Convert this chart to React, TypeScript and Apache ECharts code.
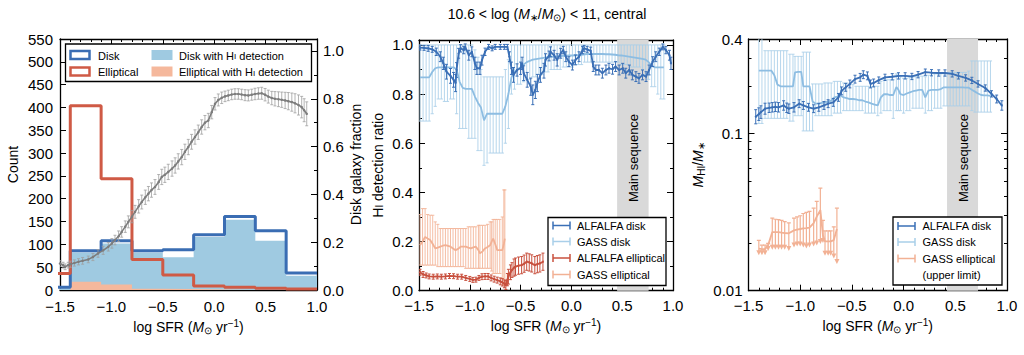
import React, { useEffect, useRef } from 'react';
import * as echarts from 'echarts';

const FONT = '"Liberation Sans", Arial, Helvetica, sans-serif';

// ---------------- data ----------------
const xRange = [-1.5, 1.0];

// Left panel: histograms (counts per log SFR bin)
const binEdges = [-1.7, -1.4, -1.1, -0.8, -0.5, -0.2, 0.1, 0.4, 0.7, 1.0];
const diskCounts = [6, 86, 108, 86, 88, 121, 161, 130, 37];
const diskHICounts = [4, 82, 102, 82, 72, 116, 154, 108, 31];
const ellCounts = [36, 404, 244, 67, 33, 9, 6, 4, 2];
const ellHICounts = [0, 18, 12, 3, 2, 1, 0, 0, 0];

// Left panel: disk galaxy fraction [logSFR, fraction, error]
const diskFraction = [
  [-1.5, 0.111, 0.012], [-1.47, 0.104, 0.012], [-1.45, 0.097, 0.012], [-1.42, 0.104, 0.012],
  [-1.4, 0.108, 0.013], [-1.36, 0.113, 0.013], [-1.32, 0.118, 0.013], [-1.28, 0.122, 0.014],
  [-1.225, 0.128, 0.014], [-1.18, 0.138, 0.015], [-1.13, 0.153, 0.016], [-1.08, 0.166, 0.017],
  [-1.03, 0.181, 0.018], [-0.995, 0.195, 0.02], [-0.965, 0.209, 0.02], [-0.93, 0.225, 0.022],
  [-0.9, 0.243, 0.022], [-0.865, 0.265, 0.024], [-0.835, 0.285, 0.025], [-0.8, 0.307, 0.026],
  [-0.77, 0.327, 0.027], [-0.735, 0.35, 0.028], [-0.705, 0.368, 0.029], [-0.67, 0.388, 0.03],
  [-0.64, 0.403, 0.03], [-0.61, 0.418, 0.03], [-0.576, 0.431, 0.031], [-0.54, 0.452, 0.031],
  [-0.51, 0.473, 0.032], [-0.48, 0.482, 0.032], [-0.447, 0.494, 0.032], [-0.41, 0.508, 0.032],
  [-0.38, 0.521, 0.032], [-0.35, 0.538, 0.032], [-0.316, 0.556, 0.032], [-0.285, 0.578, 0.032],
  [-0.252, 0.598, 0.032], [-0.22, 0.62, 0.031], [-0.187, 0.64, 0.03], [-0.155, 0.66, 0.03],
  [-0.122, 0.682, 0.03], [-0.09, 0.7, 0.03], [-0.057, 0.709, 0.03], [-0.024, 0.744, 0.028],
  [0.008, 0.779, 0.026], [0.04, 0.795, 0.025], [0.073, 0.804, 0.024], [0.105, 0.81, 0.022],
  [0.137, 0.814, 0.022], [0.17, 0.818, 0.022], [0.202, 0.82, 0.022], [0.235, 0.82, 0.022],
  [0.267, 0.818, 0.022], [0.3, 0.815, 0.023], [0.332, 0.814, 0.023], [0.365, 0.817, 0.023],
  [0.397, 0.82, 0.024], [0.43, 0.822, 0.024], [0.462, 0.823, 0.025], [0.495, 0.817, 0.026],
  [0.526, 0.809, 0.027], [0.56, 0.803, 0.028], [0.591, 0.8, 0.03], [0.625, 0.798, 0.031],
  [0.657, 0.796, 0.032], [0.69, 0.793, 0.034], [0.721, 0.79, 0.036], [0.755, 0.786, 0.038],
  [0.786, 0.781, 0.04], [0.82, 0.774, 0.042], [0.851, 0.765, 0.045], [0.875, 0.752, 0.048],
  [0.9, 0.737, 0.05],
];

// Middle panel: HI detection ratio
// ALFALFA disk [logSFR, ratio, error]
const alfalfaDiskRatio = [
  [-1.49, 0.989, 0.01], [-1.45, 0.988, 0.01], [-1.41, 0.986, 0.012], [-1.37, 0.982, 0.012],
  [-1.33, 0.972, 0.015], [-1.29, 0.952, 0.02], [-1.26, 0.925, 0.025], [-1.23, 0.891, 0.03],
  [-1.19, 0.874, 0.03], [-1.16, 0.858, 0.03], [-1.14, 0.845, 0.035], [-1.13, 0.898, 0.03],
  [-1.11, 0.966, 0.02], [-1.09, 0.986, 0.015], [-1.06, 0.979, 0.015], [-1.045, 0.992, 0.012],
  [-1.01, 0.958, 0.02], [-0.98, 0.972, 0.02], [-0.95, 0.925, 0.025], [-0.93, 0.905, 0.025],
  [-0.9, 0.905, 0.025], [-0.88, 0.938, 0.02], [-0.85, 0.972, 0.015], [-0.815, 0.992, 0.01],
  [-0.78, 0.986, 0.01], [-0.75, 0.992, 0.01], [-0.7, 0.992, 0.01], [-0.66, 0.992, 0.01],
  [-0.63, 0.992, 0.01], [-0.61, 0.952, 0.02], [-0.59, 0.905, 0.025], [-0.57, 0.878, 0.03],
  [-0.535, 0.898, 0.025], [-0.5, 0.905, 0.025], [-0.485, 0.925, 0.025], [-0.47, 0.885, 0.03],
  [-0.435, 0.858, 0.03], [-0.4, 0.83, 0.035], [-0.38, 0.797, 0.04], [-0.355, 0.817, 0.035],
  [-0.335, 0.845, 0.035], [-0.305, 0.878, 0.03], [-0.27, 0.895, 0.03], [-0.255, 0.939, 0.025],
  [-0.22, 0.955, 0.02], [-0.205, 0.972, 0.02], [-0.17, 0.958, 0.02], [-0.14, 0.939, 0.025],
  [-0.105, 0.966, 0.02], [-0.08, 0.979, 0.015], [-0.055, 0.952, 0.02], [-0.025, 0.932, 0.02],
  [0.01, 0.918, 0.02], [0.04, 0.939, 0.02], [0.075, 0.952, 0.02], [0.11, 0.979, 0.015],
  [0.125, 0.986, 0.012], [0.155, 0.982, 0.012], [0.19, 0.976, 0.015], [0.215, 0.912, 0.02],
  [0.24, 0.898, 0.02], [0.27, 0.898, 0.02], [0.305, 0.885, 0.02], [0.34, 0.898, 0.02],
  [0.37, 0.905, 0.02], [0.405, 0.901, 0.02], [0.435, 0.912, 0.02], [0.47, 0.898, 0.02],
  [0.505, 0.905, 0.02], [0.535, 0.885, 0.02], [0.57, 0.898, 0.02], [0.6, 0.878, 0.02],
  [0.635, 0.871, 0.02], [0.665, 0.864, 0.02], [0.7, 0.878, 0.02], [0.735, 0.871, 0.02],
  [0.765, 0.898, 0.02], [0.8, 0.932, 0.02], [0.83, 0.952, 0.02], [0.865, 0.972, 0.015],
  [0.9, 0.992, 0.012], [0.93, 0.979, 0.015], [0.965, 0.958, 0.02], [0.98, 0.925, 0.025],
];
// GASS disk [logSFR, ratio, lower, upper]
const gassDiskRatio = [
  [-1.49, 0.868, 0.69, 1.0], [-1.46, 0.868, 0.69, 1.0], [-1.43, 0.868, 0.69, 1.0], [-1.4, 0.868, 0.69, 1.0],
  [-1.37, 0.89, 0.72, 1.0], [-1.34, 0.905, 0.75, 1.0], [-1.31, 0.909, 0.78, 1.0], [-1.28, 0.909, 0.78, 1.0],
  [-1.25, 0.909, 0.77, 1.0], [-1.22, 0.909, 0.77, 1.0], [-1.19, 0.909, 0.78, 1.0], [-1.16, 0.909, 0.78, 1.0],
  [-1.13, 0.9, 0.72, 1.0], [-1.1, 0.85, 0.66, 1.0], [-1.07, 0.825, 0.66, 1.0], [-1.04, 0.821, 0.66, 1.0],
  [-1.01, 0.821, 0.62, 1.0], [-0.98, 0.821, 0.62, 1.0], [-0.95, 0.79, 0.62, 0.98], [-0.92, 0.765, 0.57, 0.95],
  [-0.89, 0.745, 0.57, 0.9], [-0.86, 0.693, 0.51, 0.87], [-0.83, 0.72, 0.52, 0.87], [-0.8, 0.72, 0.56, 0.87],
  [-0.77, 0.72, 0.56, 0.87], [-0.74, 0.72, 0.56, 0.87], [-0.71, 0.72, 0.56, 0.87], [-0.68, 0.72, 0.56, 0.87],
  [-0.65, 0.75, 0.6, 0.9], [-0.62, 0.8, 0.66, 0.94], [-0.59, 0.868, 0.8, 1.0], [-0.56, 0.888, 0.82, 1.0],
  [-0.53, 0.9, 0.84, 1.0], [-0.5, 0.909, 0.84, 1.0], [-0.47, 0.92, 0.85, 1.0], [-0.44, 0.93, 0.86, 1.0],
  [-0.41, 0.935, 0.86, 1.0], [-0.38, 0.94, 0.87, 1.0], [-0.35, 0.942, 0.87, 1.0], [-0.32, 0.944, 0.88, 1.0],
  [-0.29, 0.946, 0.88, 1.0], [-0.26, 0.948, 0.89, 1.0], [-0.23, 0.95, 0.89, 1.0], [-0.2, 0.951, 0.9, 1.0],
  [-0.17, 0.952, 0.9, 1.0], [-0.14, 0.953, 0.9, 1.0], [-0.11, 0.954, 0.9, 1.0], [-0.08, 0.955, 0.91, 1.0],
  [-0.05, 0.956, 0.91, 1.0], [-0.02, 0.957, 0.91, 1.0], [0.01, 0.957, 0.91, 1.0], [0.04, 0.958, 0.92, 1.0],
  [0.07, 0.958, 0.92, 1.0], [0.1, 0.96, 0.92, 1.0], [0.13, 0.962, 0.93, 1.0], [0.16, 0.963, 0.93, 1.0],
  [0.19, 0.963, 0.93, 1.0], [0.22, 0.963, 0.93, 1.0], [0.25, 0.963, 0.93, 1.0], [0.28, 0.963, 0.93, 1.0],
  [0.31, 0.963, 0.93, 1.0], [0.34, 0.962, 0.93, 1.0], [0.37, 0.962, 0.93, 1.0], [0.4, 0.961, 0.93, 1.0],
  [0.43, 0.96, 0.93, 1.0], [0.46, 0.958, 0.93, 1.0], [0.49, 0.957, 0.92, 1.0], [0.52, 0.955, 0.92, 1.0],
  [0.55, 0.953, 0.92, 1.0], [0.58, 0.951, 0.91, 1.0], [0.61, 0.949, 0.91, 1.0], [0.64, 0.947, 0.91, 1.0],
  [0.67, 0.945, 0.91, 1.0], [0.7, 0.943, 0.9, 1.0], [0.73, 0.94, 0.88, 1.0], [0.76, 0.93, 0.86, 1.0],
  [0.79, 0.915, 0.83, 1.0], [0.82, 0.909, 0.83, 1.0], [0.85, 0.909, 0.8, 1.0], [0.88, 0.909, 0.78, 1.0],
  [0.91, 0.909, 0.78, 1.0],
];
// ALFALFA elliptical [logSFR, ratio, error]
const alfalfaEllRatio = [
  [-1.49, 0.075, 0.012], [-1.46, 0.066, 0.012], [-1.43, 0.062, 0.01], [-1.4, 0.058, 0.01],
  [-1.36, 0.057, 0.01], [-1.32, 0.058, 0.01], [-1.28, 0.057, 0.01], [-1.24, 0.058, 0.01],
  [-1.2, 0.06, 0.01], [-1.16, 0.059, 0.01], [-1.12, 0.057, 0.01], [-1.08, 0.057, 0.01],
  [-1.04, 0.052, 0.01], [-1.0, 0.048, 0.01], [-0.97, 0.044, 0.01], [-0.94, 0.045, 0.01],
  [-0.91, 0.052, 0.01], [-0.88, 0.057, 0.012], [-0.85, 0.058, 0.012], [-0.82, 0.058, 0.012],
  [-0.79, 0.052, 0.012], [-0.76, 0.047, 0.012], [-0.73, 0.043, 0.012], [-0.7, 0.038, 0.014],
  [-0.68, 0.034, 0.015], [-0.66, 0.028, 0.016], [-0.645, 0.023, 0.018], [-0.63, 0.045, 0.025],
  [-0.62, 0.057, 0.03], [-0.6, 0.075, 0.03], [-0.585, 0.084, 0.03], [-0.565, 0.094, 0.035],
  [-0.55, 0.098, 0.035], [-0.52, 0.102, 0.035], [-0.49, 0.104, 0.035], [-0.465, 0.11, 0.035],
  [-0.44, 0.118, 0.035], [-0.415, 0.115, 0.035], [-0.39, 0.111, 0.035], [-0.36, 0.104, 0.035],
  [-0.335, 0.108, 0.035], [-0.31, 0.111, 0.035], [-0.28, 0.118, 0.035],
];
// GASS elliptical [logSFR, ratio, lower, upper]
const gassEllRatio = [
  [-1.49, 0.185, 0.104, 0.31], [-1.465, 0.2, 0.104, 0.334], [-1.44, 0.219, 0.104, 0.334],
  [-1.415, 0.212, 0.104, 0.31], [-1.39, 0.206, 0.104, 0.307], [-1.365, 0.19, 0.104, 0.307],
  [-1.34, 0.172, 0.104, 0.28], [-1.315, 0.175, 0.098, 0.27], [-1.29, 0.179, 0.098, 0.253],
  [-1.265, 0.183, 0.098, 0.253], [-1.24, 0.185, 0.098, 0.253], [-1.215, 0.182, 0.098, 0.253],
  [-1.19, 0.179, 0.098, 0.253], [-1.165, 0.172, 0.098, 0.253], [-1.14, 0.165, 0.098, 0.253],
  [-1.115, 0.17, 0.098, 0.253], [-1.09, 0.179, 0.098, 0.253], [-1.065, 0.179, 0.098, 0.253],
  [-1.04, 0.179, 0.091, 0.253], [-1.015, 0.175, 0.091, 0.26], [-0.99, 0.172, 0.091, 0.26],
  [-0.965, 0.176, 0.091, 0.26], [-0.94, 0.179, 0.091, 0.26], [-0.915, 0.165, 0.091, 0.266],
  [-0.9, 0.152, 0.091, 0.266], [-0.875, 0.16, 0.091, 0.266], [-0.85, 0.172, 0.091, 0.266],
  [-0.825, 0.178, 0.091, 0.27], [-0.8, 0.185, 0.091, 0.28], [-0.785, 0.2, 0.08, 0.28],
  [-0.77, 0.212, 0.07, 0.29], [-0.75, 0.19, 0.07, 0.29], [-0.73, 0.165, 0.07, 0.29],
  [-0.705, 0.165, 0.07, 0.29], [-0.68, 0.165, 0.05, 0.3], [-0.665, 0.19, 0.023, 0.41],
  [-0.655, 0.212, 0.023, 0.41],
];

// Right panel: M_HI / M_*
// ALFALFA disk [logSFR, ratio, error in dex]
const alfalfaDiskGas = [
  [-1.43, 0.128, 0.045], [-1.4, 0.133, 0.04], [-1.38, 0.137, 0.04], [-1.34, 0.144, 0.035],
  [-1.3, 0.146, 0.03], [-1.27, 0.147, 0.03], [-1.24, 0.148, 0.03], [-1.21, 0.147, 0.03],
  [-1.16, 0.151, 0.03], [-1.13, 0.146, 0.03], [-1.11, 0.144, 0.03], [-1.06, 0.147, 0.03],
  [-1.01, 0.155, 0.025], [-0.97, 0.151, 0.025], [-0.92, 0.147, 0.025], [-0.87, 0.144, 0.025],
  [-0.82, 0.147, 0.025], [-0.77, 0.151, 0.025], [-0.73, 0.155, 0.025], [-0.68, 0.158, 0.025],
  [-0.63, 0.17, 0.025], [-0.6, 0.187, 0.025], [-0.56, 0.197, 0.025], [-0.52, 0.207, 0.025],
  [-0.47, 0.222, 0.025], [-0.42, 0.228, 0.025], [-0.39, 0.237, 0.025], [-0.35, 0.233, 0.025],
  [-0.32, 0.207, 0.025], [-0.29, 0.21, 0.025], [-0.24, 0.219, 0.02], [-0.18, 0.228, 0.02],
  [-0.11, 0.23, 0.02], [-0.05, 0.233, 0.02], [0.015, 0.233, 0.02], [0.08, 0.231, 0.02],
  [0.14, 0.237, 0.02], [0.21, 0.246, 0.02], [0.27, 0.244, 0.02], [0.34, 0.243, 0.02],
  [0.4, 0.243, 0.02], [0.47, 0.24, 0.02], [0.53, 0.233, 0.02], [0.6, 0.226, 0.02],
  [0.66, 0.218, 0.02], [0.72, 0.207, 0.02], [0.79, 0.195, 0.02], [0.85, 0.179, 0.02],
  [0.9, 0.166, 0.025], [0.95, 0.151, 0.03],
];
// GASS disk [logSFR, ratio, lower, upper]
const gassDiskGas = [
  [-1.4, 0.252, 0.116, 0.45], [-1.37, 0.252, 0.116, 0.45], [-1.34, 0.252, 0.125, 0.337],
  [-1.31, 0.252, 0.125, 0.337], [-1.28, 0.252, 0.125, 0.337], [-1.25, 0.235, 0.125, 0.337],
  [-1.22, 0.205, 0.125, 0.337], [-1.19, 0.2, 0.125, 0.337], [-1.16, 0.2, 0.125, 0.337],
  [-1.13, 0.2, 0.125, 0.337], [-1.1, 0.2, 0.12, 0.32], [-1.07, 0.2, 0.12, 0.32],
  [-1.05, 0.245, 0.13, 0.31], [-1.02, 0.247, 0.13, 0.31], [-0.99, 0.247, 0.13, 0.31],
  [-0.97, 0.2, 0.104, 0.33], [-0.94, 0.2, 0.104, 0.33], [-0.91, 0.2, 0.104, 0.33],
  [-0.88, 0.16, 0.104, 0.207], [-0.85, 0.155, 0.13, 0.207], [-0.82, 0.155, 0.13, 0.207],
  [-0.79, 0.157, 0.13, 0.207], [-0.76, 0.158, 0.13, 0.21], [-0.73, 0.16, 0.13, 0.21],
  [-0.7, 0.162, 0.13, 0.21], [-0.67, 0.17, 0.135, 0.215], [-0.64, 0.172, 0.135, 0.215],
  [-0.61, 0.175, 0.135, 0.215], [-0.58, 0.17, 0.14, 0.21], [-0.55, 0.168, 0.14, 0.21],
  [-0.52, 0.166, 0.14, 0.205], [-0.49, 0.166, 0.14, 0.205], [-0.46, 0.165, 0.14, 0.2],
  [-0.43, 0.163, 0.14, 0.2], [-0.4, 0.163, 0.14, 0.2], [-0.37, 0.16, 0.135, 0.2],
  [-0.34, 0.158, 0.135, 0.2], [-0.31, 0.155, 0.135, 0.2], [-0.28, 0.153, 0.135, 0.2],
  [-0.25, 0.151, 0.13, 0.2], [-0.22, 0.17, 0.135, 0.215], [-0.19, 0.178, 0.14, 0.22],
  [-0.16, 0.178, 0.14, 0.22], [-0.13, 0.176, 0.14, 0.22], [-0.1, 0.176, 0.125, 0.22],
  [-0.07, 0.198, 0.14, 0.24], [-0.05, 0.19, 0.14, 0.235], [-0.03, 0.178, 0.14, 0.23],
  [0.0, 0.176, 0.135, 0.225], [0.03, 0.18, 0.14, 0.225], [0.06, 0.183, 0.14, 0.228],
  [0.09, 0.186, 0.145, 0.23], [0.12, 0.188, 0.145, 0.23], [0.15, 0.19, 0.145, 0.232],
  [0.18, 0.19, 0.145, 0.232], [0.21, 0.17, 0.135, 0.23], [0.24, 0.188, 0.14, 0.235],
  [0.27, 0.19, 0.14, 0.24], [0.3, 0.19, 0.145, 0.24], [0.33, 0.19, 0.145, 0.24],
  [0.36, 0.192, 0.145, 0.24], [0.39, 0.197, 0.15, 0.245], [0.42, 0.197, 0.15, 0.245],
  [0.45, 0.197, 0.15, 0.245], [0.48, 0.197, 0.15, 0.245], [0.51, 0.197, 0.15, 0.245],
  [0.54, 0.197, 0.15, 0.245], [0.57, 0.197, 0.15, 0.245], [0.6, 0.196, 0.15, 0.245],
  [0.63, 0.196, 0.15, 0.25], [0.66, 0.19, 0.14, 0.29], [0.69, 0.185, 0.137, 0.29],
  [0.72, 0.18, 0.137, 0.29], [0.75, 0.176, 0.137, 0.29], [0.78, 0.175, 0.137, 0.29],
  [0.81, 0.175, 0.137, 0.29], [0.84, 0.174, 0.137, 0.29],
];
// GASS elliptical upper limits [logSFR, ratio, lower(arrow), upper]
const gassEllGas = [
  [-1.4, 0.0185, 0.0178, 0.0209], [-1.37, 0.0184, 0.0178, 0.0195], [-1.34, 0.0184, 0.0178, 0.0195],
  [-1.31, 0.0195, 0.019, 0.02], [-1.27, 0.0236, 0.0193, 0.029], [-1.24, 0.0236, 0.0193, 0.0285],
  [-1.21, 0.0236, 0.0193, 0.0283], [-1.18, 0.0234, 0.0193, 0.028], [-1.15, 0.0233, 0.0193, 0.0275],
  [-1.11, 0.0232, 0.019, 0.027], [-1.06, 0.0242, 0.02, 0.029], [-1.03, 0.0245, 0.0203, 0.0295],
  [-1.0, 0.0247, 0.0203, 0.03], [-0.97, 0.0249, 0.02, 0.031], [-0.94, 0.025, 0.0197, 0.0315],
  [-0.91, 0.0252, 0.02, 0.032], [-0.87, 0.0269, 0.0203, 0.0335], [-0.84, 0.0296, 0.0206, 0.037],
  [-0.805, 0.0326, 0.021, 0.045], [-0.78, 0.0225, 0.0213, 0.028], [-0.76, 0.0206, 0.0177, 0.024],
  [-0.73, 0.0206, 0.0177, 0.024], [-0.705, 0.0206, 0.0177, 0.024], [-0.675, 0.021, 0.017, 0.0255],
  [-0.645, 0.0247, 0.0157, 0.0335],
];

// Main sequence band (log SFR range) as drawn in each panel
const mainSeqMid = [0.45, 0.76];
const mainSeqRight = [0.42, 0.72];

// Axis ticks
const countTicksMax = 550;
const fracTicks = [0, 0.2, 0.4, 0.6, 0.8, 1.0];
const ratioTicks = [0, 0.2, 0.4, 0.6, 0.8, 1.0];
const gasMajorTicks = [0.01, 0.1];
const gasLabelTicks = [0.01, 0.1, 0.3999];
const gasMinorTicks = [0.02, 0.03, 0.04, 0.05, 0.06, 0.07, 0.08, 0.09, 0.2, 0.3];

const legendLeft = ['Disk', 'Elliptical'];
const legendMid = ['ALFALFA disk', 'GASS disk', 'ALFALFA elliptical', 'GASS elliptical'];
const legendRight = ['ALFALFA disk', 'GASS disk', 'GASS elliptical', '(upper limit)'];

// ---------------- colours ----------------
const C_DISK = '#3a6db3';
const C_ELL = '#cf5a45';
const C_DISK_FILL = '#9fcae1';
const C_ELL_FILL = '#f5b89c';
const C_GRAY = '#7d7d7d';
const C_GRAY_ERR = '#a0a0a0';
const C_ALF_DISK = '#3a6fb6';
const C_GASS_DISK = '#8dbde2';
const C_GASS_DISK_ERR = '#a9cfe9';
const C_ALF_ELL = '#c8503e';
const C_GASS_ELL = '#f2b194';
const C_BAND = '#d9d9d9';

// ---------------- helpers ----------------
const stepData = (counts: number[]) => binEdges.map((e, i) => [e, counts[Math.min(i, counts.length - 1)]]);
const symErr = (rows: number[][]) => rows.map(([x, y, e]) => [x, y, y - e, y + e]);
const dexErr = (rows: number[][]) => rows.map(([x, y, e]) => [x, y, y / Math.pow(10, e), y * Math.pow(10, e)]);
const xy = (rows: number[][]) => rows.map((r) => [r[0], r[1]]);

function errorBars(o: { xi: number; yi: number; data: number[][]; color: string; width?: number; cap?: number; opacity?: number; arrow?: boolean; z?: number }) {
  const { color, width = 1, cap = 2, opacity = 1, arrow = false } = o;
  return {
    type: 'custom',
    xAxisIndex: o.xi,
    yAxisIndex: o.yi,
    data: o.data,
    clip: true,
    silent: true,
    z: o.z ?? 2,
    encode: { x: 0, y: [1, 2, 3] },
    renderItem: (_p: any, api: any) => {
      const x = api.value(0);
      const lo = api.coord([x, api.value(2)]);
      const hi = api.coord([x, api.value(3)]);
      const st = { stroke: color, lineWidth: width, opacity };
      const children: any[] = [
        { type: 'line', shape: { x1: lo[0], y1: lo[1], x2: hi[0], y2: hi[1] }, style: st },
        { type: 'line', shape: { x1: hi[0] - cap, y1: hi[1], x2: hi[0] + cap, y2: hi[1] }, style: st },
      ];
      if (arrow) {
        children.push({
          type: 'polygon',
          shape: { points: [[lo[0] - 2.5, lo[1] - 1], [lo[0] + 2.5, lo[1] - 1], [lo[0], lo[1] + 4]] },
          style: { fill: color, opacity },
        });
      } else {
        children.push({ type: 'line', shape: { x1: lo[0] - cap, y1: lo[1], x2: lo[0] + cap, y2: lo[1] }, style: st });
      }
      return { type: 'group', children };
    },
  };
}

function line(xi: number, yi: number, data: number[][], color: string, width: number, z: number, sym = 0) {
  return {
    type: 'line', xAxisIndex: xi, yAxisIndex: yi, data,
    symbol: sym ? 'circle' : 'none', symbolSize: sym, showSymbol: !!sym,
    itemStyle: { color }, lineStyle: { color, width }, z, silent: true, clip: true,
  };
}

function stepSeries(data: number[][], color: string, fill: boolean, z: number) {
  return {
    type: 'line', xAxisIndex: 0, yAxisIndex: 0, data, step: 'end', symbol: 'none', showSymbol: false,
    lineStyle: fill ? { width: 0, color } : { width: 3, color },
    areaStyle: fill ? { color, opacity: 1 } : undefined,
    z, silent: true, clip: true,
  };
}

const AX_LINE = { show: true, onZero: false, lineStyle: { color: '#000', width: 1.3 } };
const NO_LINE = { show: false, onZero: false };
const TICK = { color: '#000', width: 1 };
const fmtX = (v: number) => v.toFixed(1).replace('-', '\u2212');
const RICH = {
  i: { fontStyle: 'italic', fontSize: 14, fontFamily: FONT, color: '#000' },
  sub: { fontSize: 10, fontFamily: FONT, color: '#000', padding: [7, 0, 0, 0] },
  sup: { fontSize: 10, fontFamily: FONT, color: '#000', padding: [0, 0, 7, 0] },
  s: { fontSize: 10, fontFamily: FONT, color: '#000', padding: [2, 0, 0, 0] },
};
const NAME_STYLE = { fontSize: 14, fontFamily: FONT, color: '#000', rich: RICH };
const LABEL = { fontSize: 15, fontFamily: FONT, color: '#000', lineHeight: 13 };

function xAxisDef(gridIndex: number, bottom: boolean) {
  return {
    type: 'value', gridIndex, position: bottom ? 'bottom' : 'top',
    min: xRange[0], max: xRange[1], interval: 0.5,
    axisLine: AX_LINE,
    axisTick: { show: true, inside: true, length: 6, lineStyle: TICK },
    minorTick: { show: true, splitNumber: 5, length: 3, lineStyle: TICK },
    splitLine: { show: false },
    axisLabel: { show: bottom, ...LABEL, margin: gridIndex === 0 ? 10 : 8, formatter: fmtX },
    name: bottom ? 'log SFR ({i|M}{sub|\u2299} yr{sup|\u22121})' : '',
    nameLocation: 'middle', nameGap: 26, nameTextStyle: NAME_STYLE,
  };
}

function linearY(gridIndex: number, pos: string, max: number, interval: number, ticks: number[] | null, minor: number, showLabel: boolean, name: string, nameGap: number, fmt?: (v: number) => string, margin = 6) {
  return {
    type: 'value', gridIndex, position: pos, min: 0, max, interval,
    axisLine: AX_LINE,
    axisTick: { show: true, inside: true, length: 6, lineStyle: TICK, ...(ticks ? { customValues: ticks } : {}) },
    minorTick: { show: minor > 0, splitNumber: minor || 5, length: 3, lineStyle: TICK },
    splitLine: { show: false },
    axisLabel: { show: showLabel, ...LABEL, margin, ...(ticks ? { customValues: ticks } : {}), ...(fmt ? { formatter: fmt } : {}) },
    name, nameLocation: 'middle', nameRotate: 90, nameGap, nameTextStyle: NAME_STYLE,
  };
}

function logY(pos: string, minor: boolean, showLabel: boolean, name: string) {
  return {
    type: 'log', logBase: 10, gridIndex: 2, position: pos, min: 0.01, max: 0.4,
    axisLine: minor ? NO_LINE : AX_LINE,
    axisTick: { show: true, inside: true, length: minor ? 3 : 6, lineStyle: TICK, customValues: minor ? gasMinorTicks : gasMajorTicks },
    minorTick: { show: false },
    splitLine: { show: false },
    axisLabel: {
      show: showLabel && !minor, ...LABEL, margin: 6, customValues: gasLabelTicks,
      formatter: (v: number) => String(Number(v.toPrecision(1))),
    },
    name, nameLocation: 'middle', nameRotate: 90, nameGap: 42, nameTextStyle: NAME_STYLE,
  };
}

function bandSeries(xi: number, yi: number, range: number[]) {
  return {
    type: 'line', xAxisIndex: xi, yAxisIndex: yi, data: [], z: 0, silent: true, symbol: 'none',
    markArea: { silent: true, itemStyle: { color: C_BAND, opacity: 1 }, data: [[{ xAxis: range[0] }, { xAxis: range[1] }]] },
  };
}

// ---------------- graphics (legends, titles) ----------------
function txt(x: number, y: number, text: string, size: number, extra: any = {}) {
  return {
    type: 'text', x, y, z: 120, silent: true,
    style: {
      text, fontSize: size, fontFamily: FONT, fill: '#000', align: 'left', verticalAlign: 'middle',
      rich: {
        s: { fontSize: size - 3, fontFamily: FONT, fill: '#000', padding: [2, 0, 0, 0] },
        i: { fontSize: size, fontFamily: FONT, fontStyle: 'italic', fill: '#000' },
        sub: { fontSize: size - 4, fontFamily: FONT, fill: '#000', padding: [7, 0, 0, 0] },
      },
      ...extra,
    },
  };
}
const box = (x: number, y: number, w: number, h: number) => ({
  type: 'rect', z: 110, silent: true, shape: { x, y, width: w, height: h },
  style: { fill: '#fff', stroke: '#000', lineWidth: 1.3 },
});
const seg = (x1: number, y1: number, x2: number, y2: number, color: string, w = 1.5) => ({
  type: 'line', z: 115, silent: true, shape: { x1, y1, x2, y2 }, style: { stroke: color, lineWidth: w },
});
const errSym = (x: number, y: number, color: string) => [
  seg(x, y, x + 17, y, color), seg(x, y - 4, x, y + 4, color), seg(x + 17, y - 4, x + 17, y + 4, color),
];

function buildGraphics() {
  const g: any[] = [];
  // Title
  g.push(txt(547, 14, '10.6 < log ({i|M}{sub|\u2217}/{i|M}{sub|\u2299}) < 11, central', 14, { align: 'center' }));
  // Left legend
  g.push(box(65.5, 44, 246, 37.5));
  g.push({ type: 'rect', z: 115, silent: true, shape: { x: 70.5, y: 51, width: 19, height: 8 }, style: { fill: 'none', stroke: C_DISK, lineWidth: 2.5 } });
  g.push({ type: 'rect', z: 115, silent: true, shape: { x: 70.5, y: 67.5, width: 19, height: 8 }, style: { fill: 'none', stroke: C_ELL, lineWidth: 2.5 } });
  g.push({ type: 'rect', z: 115, silent: true, shape: { x: 151.5, y: 50, width: 21, height: 10 }, style: { fill: C_DISK_FILL } });
  g.push({ type: 'rect', z: 115, silent: true, shape: { x: 151.5, y: 66.5, width: 21, height: 10 }, style: { fill: C_ELL_FILL } });
  g.push(txt(98, 55.5, legendLeft[0], 11));
  g.push(txt(98, 72, legendLeft[1], 11));
  g.push(txt(179, 55.5, 'Disk with H{s|I} detection', 11));
  g.push(txt(179, 72, 'Elliptical with H{s|I} detection', 11));
  // Middle legend
  g.push(box(548, 217.5, 118, 68));
  const midColors = [C_ALF_DISK, C_GASS_DISK_ERR, C_ALF_ELL, C_GASS_ELL];
  const midRows = [225.5, 241.5, 258, 274.5];
  midRows.forEach((y, i) => {
    g.push(...errSym(553, y, midColors[i]));
    g.push(txt(577, y, legendMid[i], 11));
  });
  // Right legend
  g.push(box(893, 217, 109, 68));
  const rColors = [C_ALF_DISK, C_GASS_DISK_ERR, C_GASS_ELL];
  const rRows = [226, 242, 258.5, 275];
  rRows.forEach((y, i) => {
    if (i < 3) g.push(...errSym(898, y, rColors[i]));
    g.push(txt(922.5, y, legendRight[i], 11));
  });
  // Main sequence labels
  g.push(txt(633, 158, 'Main sequence', 13, { align: 'center' }));
  g[g.length - 1].rotation = Math.PI / 2;
  g.push(txt(963, 158, 'Main sequence', 13, { align: 'center' }));
  g[g.length - 1].rotation = Math.PI / 2;
  return g;
}

function buildOption() {
  const grids = [
    { left: 60, top: 39, width: 257, height: 251 },
    { left: 419, top: 40, width: 254, height: 250.7 },
    { left: 748.5, top: 39, width: 258.5, height: 251.7 },
  ];
  const xAxes = [xAxisDef(0, true), xAxisDef(0, false), xAxisDef(1, true), xAxisDef(1, false), xAxisDef(2, true), xAxisDef(2, false)];
  const yAxes = [
    linearY(0, 'left', countTicksMax, 50, null, 0, true, 'Count', 40, undefined, 7),
    linearY(0, 'right', 1.05, 0.2, fracTicks, 2, true, 'Disk galaxy fraction', 32, (v) => v.toFixed(1)),
    linearY(1, 'left', 1.02, 0.2, ratioTicks, 2, true, 'H{s|I} detection ratio', 34, (v) => v.toFixed(1)),
    linearY(1, 'right', 1.02, 0.2, ratioTicks, 2, false, '', 30),
    logY('left', false, true, '{i|M}{sub|HI}/{i|M}{sub|\u2217}'),
    logY('left', true, false, ''),
    logY('right', false, false, ''),
    logY('right', true, false, ''),
  ];
  const series: any[] = [
    // left panel
    stepSeries(stepData(diskHICounts), C_DISK_FILL, true, 1),
    stepSeries(stepData(ellHICounts), C_ELL_FILL, true, 2),
    stepSeries(stepData(diskCounts), C_DISK, false, 3),
    stepSeries(stepData(ellCounts), C_ELL, false, 4),
    errorBars({ xi: 0, yi: 1, data: symErr(diskFraction), color: C_GRAY_ERR, width: 0.8, cap: 1.5, z: 5 }),
    line(0, 1, xy(diskFraction), C_GRAY, 1.6, 6, 2.5),
    // middle panel
    bandSeries(2, 2, mainSeqMid),
    errorBars({ xi: 2, yi: 2, data: gassDiskRatio, color: C_GASS_DISK_ERR, width: 1, cap: 1.6, opacity: 0.85, z: 2 }),
    line(2, 2, xy(gassDiskRatio), C_GASS_DISK, 1.8, 3),
    errorBars({ xi: 2, yi: 2, data: gassEllRatio, color: C_GASS_ELL, width: 1, cap: 1.6, opacity: 0.85, z: 2 }),
    line(2, 2, xy(gassEllRatio), C_GASS_ELL, 1.8, 3),
    errorBars({ xi: 2, yi: 2, data: symErr(alfalfaDiskRatio), color: C_ALF_DISK, width: 1, cap: 1.5, z: 4 }),
    line(2, 2, xy(alfalfaDiskRatio), C_ALF_DISK, 1.8, 5, 2),
    errorBars({ xi: 2, yi: 2, data: symErr(alfalfaEllRatio), color: C_ALF_ELL, width: 1, cap: 1.5, z: 4 }),
    line(2, 2, xy(alfalfaEllRatio), C_ALF_ELL, 1.8, 5, 2),
    // right panel
    bandSeries(4, 4, mainSeqRight),
    errorBars({ xi: 4, yi: 4, data: gassDiskGas, color: C_GASS_DISK_ERR, width: 1, cap: 1.6, opacity: 0.85, z: 2 }),
    line(4, 4, xy(gassDiskGas), C_GASS_DISK, 1.8, 3),
    errorBars({ xi: 4, yi: 4, data: dexErr(alfalfaDiskGas), color: C_ALF_DISK, width: 1, cap: 1.5, z: 4 }),
    line(4, 4, xy(alfalfaDiskGas), C_ALF_DISK, 1.8, 5, 2),
    errorBars({ xi: 4, yi: 4, data: gassEllGas, color: C_GASS_ELL, width: 1.2, cap: 2, arrow: true, z: 4 }),
    line(4, 4, xy(gassEllGas), C_GASS_ELL, 1.8, 5),
  ];
  return {
    animation: false,
    backgroundColor: '#fff',
    textStyle: { fontFamily: FONT },
    grid: grids,
    xAxis: xAxes,
    yAxis: yAxes,
    series,
    graphic: buildGraphics(),
  };
}

export default function App() {
  const ref = useRef<HTMLDivElement>(null);
  useEffect(() => {
    const chart = echarts.init(ref.current!, null, { renderer: 'svg' });
    chart.setOption(buildOption() as any);
    return () => chart.dispose();
  }, []);
  return (
    <div
      ref={ref}
      style={{ position: 'absolute', left: 0, top: 0, width: 1024, height: 355, background: '#fff' }}
    />
  );
}
